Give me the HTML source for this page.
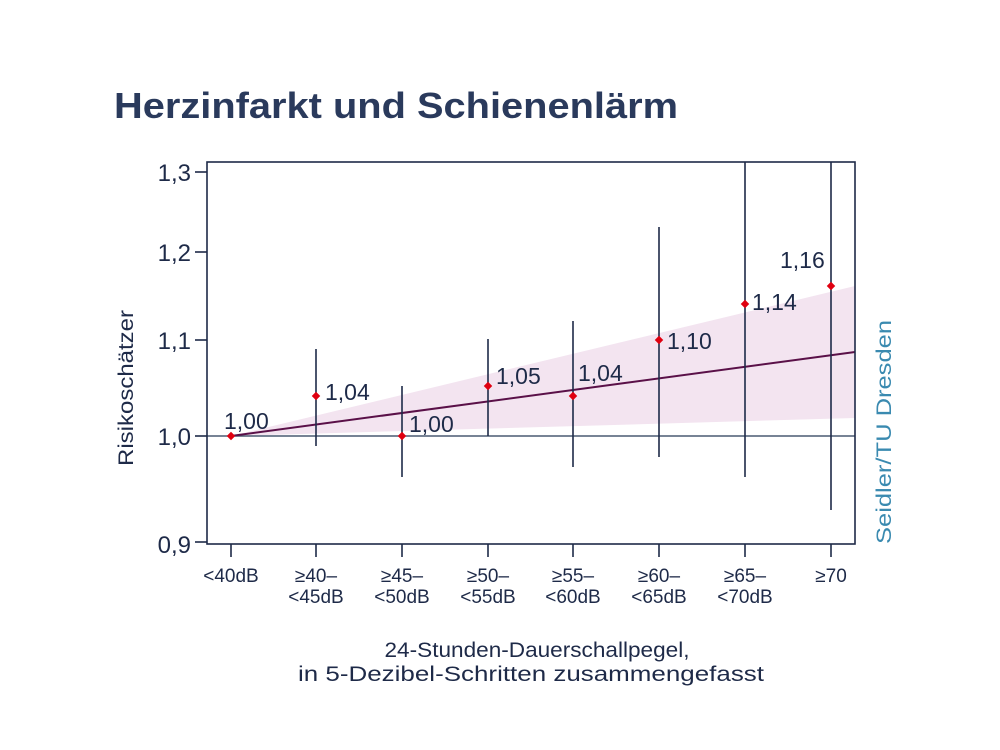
<!DOCTYPE html>
<html><head><meta charset="utf-8"><style>
body{margin:0;background:#fff;}
svg{display:block;font-family:"DejaVu Sans","Liberation Sans",sans-serif;}
</style></head><body>
<svg width="1000" height="750" viewBox="0 0 1000 750">
<text x="114" y="118" font-size="36" font-weight="bold" fill="#2a3a5c" font-family="Liberation Sans, sans-serif" textLength="564" lengthAdjust="spacingAndGlyphs">Herzinfarkt und Schienenlärm</text>
<polygon points="231,436 855,286 855,418" fill="#f3e4f0"/>
<line x1="207" y1="436" x2="855" y2="436" stroke="#4a5a72" stroke-width="1.5"/>
<line x1="231" y1="436" x2="855" y2="352" stroke="#5a1048" stroke-width="2"/>
<g stroke="#1e2a48" stroke-width="1.6">
<line x1="316" y1="349" x2="316" y2="446"/>
<line x1="402" y1="386" x2="402" y2="477"/>
<line x1="488" y1="339" x2="488" y2="436"/>
<line x1="573" y1="321" x2="573" y2="467"/>
<line x1="659" y1="227" x2="659" y2="457"/>
<line x1="745" y1="162" x2="745" y2="477"/>
<line x1="831" y1="162" x2="831" y2="510"/>
</g>
<rect x="207" y="162" width="648" height="382" fill="none" stroke="#1e2a48" stroke-width="1.6"/>
<g stroke="#1e2a48" stroke-width="1.6">
<line x1="195" y1="172" x2="207" y2="172"/><line x1="195" y1="252" x2="207" y2="252"/>
<line x1="195" y1="340" x2="207" y2="340"/><line x1="195" y1="436" x2="207" y2="436"/>
<line x1="195" y1="542" x2="207" y2="542"/>
<line x1="231" y1="544" x2="231" y2="557"/><line x1="316" y1="544" x2="316" y2="557"/>
<line x1="402" y1="544" x2="402" y2="557"/><line x1="488" y1="544" x2="488" y2="557"/>
<line x1="573" y1="544" x2="573" y2="557"/><line x1="659" y1="544" x2="659" y2="557"/>
<line x1="745" y1="544" x2="745" y2="557"/><line x1="831" y1="544" x2="831" y2="557"/>
</g>
<g fill="#e00010">
<rect x="228" y="433" width="6" height="6" transform="rotate(45 231 436)"/>
<rect x="313" y="393" width="6" height="6" transform="rotate(45 316 396)"/>
<rect x="399" y="433" width="6" height="6" transform="rotate(45 402 436)"/>
<rect x="485" y="383" width="6" height="6" transform="rotate(45 488 386)"/>
<rect x="570" y="393" width="6" height="6" transform="rotate(45 573 396)"/>
<rect x="656" y="337" width="6" height="6" transform="rotate(45 659 340)"/>
<rect x="742" y="301" width="6" height="6" transform="rotate(45 745 304)"/>
<rect x="828" y="283" width="6" height="6" transform="rotate(45 831 286)"/>
</g>
<g font-size="23" fill="#1e2a48" font-family="Liberation Sans, sans-serif">
<text x="224" y="429">1,00</text>
<text x="325" y="400">1,04</text>
<text x="409" y="432">1,00</text>
<text x="496" y="384">1,05</text>
<text x="578" y="381">1,04</text>
<text x="667" y="349">1,10</text>
<text x="752" y="310">1,14</text>
<text x="780" y="268">1,16</text>
</g>
<g font-size="24" fill="#1e2a48" text-anchor="end" font-family="Liberation Sans, sans-serif">
<text x="191" y="181">1,3</text><text x="191" y="261">1,2</text>
<text x="191" y="349">1,1</text><text x="191" y="445">1,0</text>
<text x="191" y="553">0,9</text>
</g>
<g font-size="19" fill="#1e2a48" text-anchor="middle" font-family="Liberation Sans, sans-serif">
<text x="231" y="582">&lt;40dB</text>
<text x="316" y="582">≥40–</text><text x="316" y="603">&lt;45dB</text>
<text x="402" y="582">≥45–</text><text x="402" y="603">&lt;50dB</text>
<text x="488" y="582">≥50–</text><text x="488" y="603">&lt;55dB</text>
<text x="573" y="582">≥55–</text><text x="573" y="603">&lt;60dB</text>
<text x="659" y="582">≥60–</text><text x="659" y="603">&lt;65dB</text>
<text x="745" y="582">≥65–</text><text x="745" y="603">&lt;70dB</text>
<text x="831" y="582">≥70</text>
<text x="537" y="657" font-size="21" textLength="305" lengthAdjust="spacingAndGlyphs">24-Stunden-Dauerschallpegel,</text>
<text x="531" y="681" font-size="21" textLength="466" lengthAdjust="spacingAndGlyphs">in 5-Dezibel-Schritten zusammengefasst</text>
</g>
<text transform="translate(133 388) rotate(-90)" font-size="21" fill="#1e2a48" text-anchor="middle" font-family="Liberation Sans, sans-serif" textLength="156" lengthAdjust="spacingAndGlyphs">Risikoschätzer</text>
<text transform="translate(891 432) rotate(-90)" font-size="21" fill="#3a8ab0" text-anchor="middle" font-family="Liberation Sans, sans-serif" textLength="224" lengthAdjust="spacingAndGlyphs">Seidler/TU Dresden</text>
</svg>
</body></html>
